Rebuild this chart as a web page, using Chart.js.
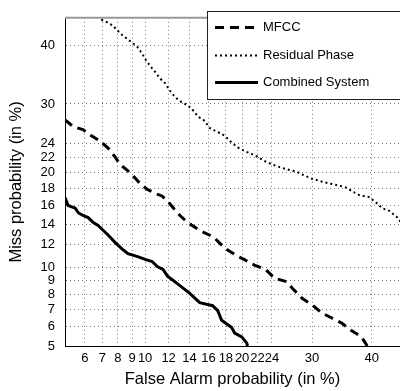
<!DOCTYPE html>
<html>
<head>
<meta charset="utf-8">
<script src="https://cdn.jsdelivr.net/npm/chart.js@4/dist/chart.umd.min.js"></script>
<style>
  body { margin: 0; background: #fff; }
</style>
</head>
<body>
<canvas id="detChart" width="400" height="391"></canvas>
<script>
// axis ticks (in %)
const xTickLabels = [6, 7, 8, 9, 10, 12, 14, 16, 18, 20, 22, 24, 30, 40];
const yTickLabels = [5, 6, 7, 8, 9, 10, 12, 14, 16, 18, 20, 22, 24, 30, 40];
const axisMin = 5;
const axisMax = 45;

// MFCC
const mfccFA = [5.0, 5.4, 5.9, 6.41, 6.87, 7.36, 7.8, 8.14, 8.7, 9.06, 9.6, 10.15, 11.0, 11.4, 11.9, 12.6, 13.06, 13.5, 14.2, 15.06, 16.1, 16.7, 17.3, 18.2, 19.3, 20.3, 21.6, 23.1, 24.4, 26.1, 27.0, 28.5, 30.0, 31.5, 33.1, 34.8, 36.4, 38.2, 39.2];
const mfccMiss = [27.5, 26.45, 26.0, 25.0, 24.3, 23.3, 22.1, 21.1, 20.2, 19.6, 18.6, 17.9, 17.3, 17.1, 16.5, 15.5, 14.9, 14.45, 13.9, 13.35, 12.9, 12.6, 12.1, 11.5, 11.0, 10.65, 10.2, 9.85, 9.15, 8.9, 8.4, 7.7, 7.3, 6.8, 6.5, 6.2, 5.8, 5.45, 5.0];

// Residual Phase
const residualFA = [6.8, 6.98, 7.36, 7.7, 7.93, 8.28, 8.63, 8.99, 9.37, 9.75, 10.0, 10.4, 10.8, 11.25, 11.7, 12.1, 12.6, 13.2, 13.8, 14.35, 14.9, 15.45, 15.8, 16.1, 16.9, 17.5, 18.1, 18.7, 19.45, 20.3, 21.2, 22.0, 23.0, 23.9, 25.1, 26.2, 27.6, 28.8, 30.0, 31.5, 32.8, 34.4, 35.6, 36.6, 37.8, 39.55, 40.8, 41.8, 43.1, 44.5, 45.2];
const residualMiss = [45.5, 44.6, 44.1, 43.5, 42.8, 41.9, 41.2, 40.5, 39.8, 38.6, 37.6, 36.4, 35.4, 34.2, 33.4, 32.2, 31.1, 30.3, 29.8, 29.0, 27.95, 27.5, 26.9, 26.3, 25.7, 25.4, 24.8, 24.1, 23.4, 22.9, 22.5, 22.1, 21.5, 21.1, 20.7, 20.4, 20.1, 19.6, 19.2, 18.85, 18.6, 18.35, 18.1, 17.65, 17.2, 16.95, 16.3, 15.7, 15.4, 14.7, 14.15];

// Combined System
const combinedFA = [5.0, 5.15, 5.5, 5.65, 5.9, 6.18, 6.47, 6.75, 7.05, 7.36, 7.81, 8.28, 8.7, 9.37, 10.0, 10.57, 11.0, 11.5, 11.92, 12.4, 12.87, 14.0, 15.06, 16.47, 17.05, 17.5, 18.7, 19.07, 19.95, 20.58, 20.7];
const combinedMiss = [16.9, 16.0, 15.7, 15.2, 14.9, 14.67, 14.15, 13.85, 13.37, 12.9, 12.2, 11.6, 11.18, 10.93, 10.68, 10.5, 10.08, 9.85, 9.3, 9.0, 8.72, 8.08, 7.43, 7.24, 6.93, 6.35, 5.95, 5.65, 5.45, 5.15, 5.0];

const FONT = "'Liberation Sans', Arial, sans-serif";

// inverse normal cdf (Acklam) -> DET axes are on the normal deviate scale
function probit(p) {
  const a = [-3.969683028665376e+01, 2.209460984245205e+02, -2.759285104469687e+02, 1.383577518672690e+02, -3.066479806614716e+01, 2.506628277459239e+00];
  const b = [-5.447609879822406e+01, 1.615858368580409e+02, -1.556989798598866e+02, 6.680131188771972e+01, -1.328068155288572e+01];
  const c = [-7.784894002430293e-03, -3.223964580411365e-01, -2.400758277161838e+00, -2.549671324520771e+00, 4.374664141464968e+00, 2.938163982698783e+00];
  const d = [7.784695709041462e-03, 3.224671290700398e-01, 2.445134137142996e+00, 3.754408661907416e+00];
  const pLow = 0.02425;
  let q, r;
  if (p < pLow) {
    q = Math.sqrt(-2 * Math.log(p));
    return (((((c[0] * q + c[1]) * q + c[2]) * q + c[3]) * q + c[4]) * q + c[5]) /
      ((((d[0] * q + d[1]) * q + d[2]) * q + d[3]) * q + 1);
  } else if (p <= 1 - pLow) {
    q = p - 0.5;
    r = q * q;
    return (((((a[0] * r + a[1]) * r + a[2]) * r + a[3]) * r + a[4]) * r + a[5]) * q /
      (((((b[0] * r + b[1]) * r + b[2]) * r + b[3]) * r + b[4]) * r + 1);
  }
  q = Math.sqrt(-2 * Math.log(1 - p));
  return -(((((c[0] * q + c[1]) * q + c[2]) * q + c[3]) * q + c[4]) * q + c[5]) /
    ((((d[0] * q + d[1]) * q + d[2]) * q + d[3]) * q + 1);
}

function toPoints(fa, miss) {
  return fa.map((v, i) => ({ x: probit(v / 100), y: probit(miss[i] / 100) }));
}

// legend box drawn inside the plot, top right
const boxLegend = {
  id: "boxLegend",
  afterDraw(chart) {
    const c = chart.ctx;
    const area = chart.chartArea;
    c.save();
    // grey top frame line
    c.strokeStyle = "#9a9a9a";
    c.lineWidth = 2;
    c.beginPath();
    c.moveTo(area.left, area.top);
    c.lineTo(area.right, area.top);
    c.stroke();

    const bx = 207, by = 11, bw = 200, bh = 88;
    c.fillStyle = "#fff";
    c.fillRect(bx, by, bw, bh);
    c.strokeStyle = "#222";
    c.lineWidth = 1;
    c.strokeRect(bx + 0.5, by + 0.5, bw, bh);

    const rows = [27, 55, 82];
    chart.data.datasets.forEach((ds, i) => {
      const y = rows[i] + 0.5;
      c.strokeStyle = ds.borderColor;
      c.lineWidth = ds.borderWidth;
      c.setLineDash(ds.borderDash || []);
      c.beginPath();
      c.moveTo(215, y);
      c.lineTo(258, y);
      c.stroke();
      c.setLineDash([]);
      c.fillStyle = "#000";
      c.font = "13px " + FONT;
      c.textBaseline = "middle";
      c.fillText(ds.label, 263, y);
    });
    c.restore();
  },
};

function detChartGenerate() {
  const ctx = document.getElementById("detChart").getContext("2d");

  new Chart(ctx, {
    type: "scatter",
    data: {
      datasets: [
        {
          label: "MFCC",
          data: toPoints(mfccFA, mfccMiss),
          showLine: true,
          borderColor: "#000",
          borderWidth: 3,
          borderDash: [9, 6],
          pointRadius: 0,
        },
        {
          label: "Residual Phase",
          data: toPoints(residualFA, residualMiss),
          showLine: true,
          borderColor: "#000",
          borderWidth: 2,
          borderDash: [2, 3],
          pointRadius: 0,
        },
        {
          label: "Combined System",
          data: toPoints(combinedFA, combinedMiss),
          showLine: true,
          borderColor: "#000",
          borderWidth: 3,
          pointRadius: 0,
        },
      ],
    },
    options: {
      responsive: false,
      animation: false,
      layout: { padding: { top: 11, right: 0, left: 0, bottom: 0 } },
      plugins: {
        legend: { display: false },
        tooltip: { enabled: false },
      },
      scales: {
        x: {
          type: "linear",
          min: probit(axisMin / 100),
          max: probit(axisMax / 100),
          afterBuildTicks: (scale) => {
            scale.ticks = xTickLabels.map((v) => ({ value: probit(v / 100) }));
          },
          afterFit: (scale) => {
            scale.height = 45;
          },
          ticks: {
            autoSkip: false,
            maxRotation: 0,
            padding: 5,
            color: "#000",
            font: { family: FONT, size: 13 },
            callback: (value, index) => xTickLabels[index],
          },
          grid: { color: "#777", lineWidth: 1, drawTicks: false },
          border: { display: true, color: "#000", width: 1, dash: [1, 3] },
          title: {
            display: true,
            text: "False Alarm probability (in %)",
            color: "#000",
            font: { family: FONT, size: 16.5 },
            padding: { top: 0, bottom: 2 },
          },
        },
        y: {
          type: "linear",
          min: probit(axisMin / 100),
          max: probit(axisMax / 100),
          afterBuildTicks: (scale) => {
            scale.ticks = yTickLabels.map((v) => ({ value: probit(v / 100) }));
          },
          afterFit: (scale) => {
            scale.width = 65;
          },
          ticks: {
            autoSkip: false,
            padding: 10,
            color: "#000",
            font: { family: FONT, size: 13 },
            callback: (value, index) => yTickLabels[index],
          },
          grid: { color: "#777", lineWidth: 1, drawTicks: false },
          border: { display: true, color: "#000", width: 1, dash: [1, 3] },
          title: {
            display: true,
            text: "Miss probability (in %)",
            color: "#000",
            font: { family: FONT, size: 16.5 },
            padding: { top: 7, bottom: 0 },
          },
        },
      },
    },
    plugins: [boxLegend],
  });
}

detChartGenerate();
</script>
</body>
</html>
